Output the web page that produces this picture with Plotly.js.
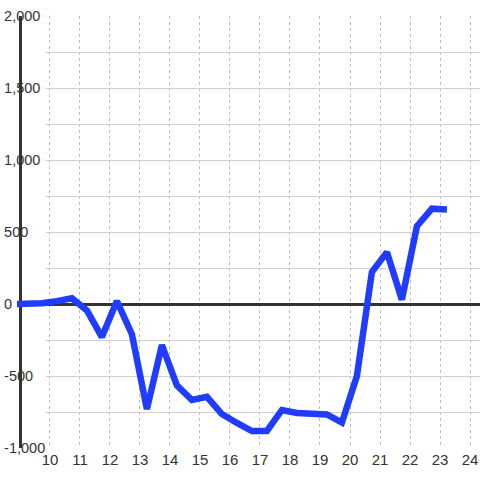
<!DOCTYPE html>
<html>
<head>
<meta charset="utf-8">
<script src="https://cdn.plot.ly/plotly-3.0.1.min.js"></script>
<style>html,body{margin:0;padding:0;background:#fff;}#chart{width:480px;height:480px;}</style>
</head>
<body>
<div id="chart"></div>
<script>
// Data
var xValues = [8.73, 9.23, 9.73, 10.23, 10.73, 11.23, 11.73, 12.23, 12.73, 13.23,
               13.73, 14.23, 14.73, 15.23, 15.73, 16.23, 16.73, 17.23, 17.73, 18.23,
               18.73, 19.23, 19.73, 20.23, 20.73, 21.23, 21.73, 22.23, 22.73, 23.23];
var yValues = [0, 0, 5, 20, 40, -45, -230, 20, -210, -730,
               -285, -565, -667, -645, -764, -826, -882, -882, -736, -757,
               -764, -767, -823, -500, 222, 360, 30, 540, 662, 657];
var xTickVals = [10, 11, 12, 13, 14, 15, 16, 17, 18, 19, 20, 21, 22, 23, 24];
var yTickVals = [-1000, -750, -500, -250, 0, 250, 500, 750, 1000, 1250, 1500, 1750, 2000];
var yTickText = ['-1,000', '', '-500', '', '0', '', '500', '', '1,000', '', '1,500', '', '2,000'];

var xRangeFull = [8.9, 24.333];   // trace subplot (starts at the axis line)
var xRangeGrid = [9.867, 24.333]; // grid subplot (starts right of the labels)
var yRange = [-1000, 2000];

var font = {family: 'Liberation Sans, Arial, sans-serif', size: 15, color: '#333333'};
var yFont = {family: 'Liberation Sans, Arial, sans-serif', size: 14.5, color: '#333333'};

// invisible carrier so the grid subplot (x, y) is created
var gridCarrier = {
  x: xValues, y: yValues, type: 'scatter', mode: 'lines',
  xaxis: 'x', yaxis: 'y', opacity: 0, line: {width: 0},
  hoverinfo: 'skip', showlegend: false
};

var trace = {
  x: xValues, y: yValues, type: 'scatter', mode: 'lines',
  xaxis: 'x2', yaxis: 'y2',
  line: {color: '#1f3cff', width: 6.5},
  hoverinfo: 'skip', showlegend: false
};

var layout = {
  width: 480, height: 480,
  margin: {l: 17, r: 0, t: 16, b: 32, pad: 0},
  paper_bgcolor: '#ffffff', plot_bgcolor: 'rgba(0,0,0,0)',
  showlegend: false,
  font: font,
  // grid subplot: vertical dotted grid, horizontal grid, tick labels
  xaxis: {
    domain: [0.0626, 1], anchor: 'y',
    range: xRangeGrid, tickmode: 'array', tickvals: xTickVals,
    showgrid: true, gridcolor: '#c0c0c0', gridwidth: 1, griddash: 'dot',
    zeroline: false, showline: false, ticks: '', tickfont: font,
    ticklabelstandoff: 1, fixedrange: true
  },
  yaxis: {
    range: yRange, tickmode: 'array', tickvals: yTickVals, ticktext: yTickText,
    showgrid: true, gridcolor: '#cfcfcf', gridwidth: 1,
    zeroline: false, showline: true, linecolor: '#333333', linewidth: 3,
    anchor: 'free', position: 0.0065, layer: 'below traces',
    ticks: '', ticklabelposition: 'inside', ticklabelstandoff: -18,
    ticklabeloverflow: 'allow', tickfont: yFont,
    fixedrange: true
  },
  // trace subplot: full width, carries the zero line
  xaxis2: {
    domain: [0, 1], anchor: 'y2', range: xRangeFull,
    showgrid: false, zeroline: false, showline: false, ticks: '', showticklabels: false,
    fixedrange: true
  },
  yaxis2: {
    domain: [0, 1], anchor: 'x2', range: yRange,
    showgrid: false, showline: false, ticks: '', showticklabels: false,
    zeroline: true, zerolinecolor: '#333333', zerolinewidth: 3,
    fixedrange: true
  }
};

Plotly.newPlot('chart', [gridCarrier, trace], layout, {staticPlot: true, displayModeBar: false});
</script>
</body>
</html>
